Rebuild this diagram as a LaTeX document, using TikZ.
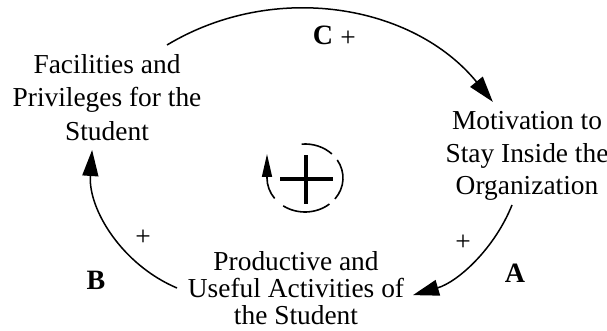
\documentclass[tikz,border=0pt]{standalone}
\usepackage{fontspec}
\setmainfont{Liberation Serif}
\usetikzlibrary{arrows.meta}
\begin{document}
\begin{tikzpicture}[x=1pt,y=1pt,
  lbl/.style={align=center, inner sep=0pt},
  sgn/.style={font=\fontsize{27.4}{33}\selectfont, inner sep=0pt},
  letter/.style={font=\fontsize{28}{33}\selectfont\bfseries, inner sep=0pt},
  link/.style={line width=1.5pt, -{Triangle[length=26pt,width=16pt]}},
  loopline/.style={line width=1.6pt},
  loopplus/.style={line width=3.6pt},
]
\useasboundingbox (0,0) rectangle (607,331);
% variables
\node[lbl, font=\fontsize{27.4}{33.5}\selectfont] (fac) at (107,233.8)
  {Facilities and\\Privileges for the\\Student};
\node[lbl, font=\fontsize{27.4}{32.5}\selectfont] (mot) at (527,175)
  {Motivation to\\Stay Inside the\\Organization};
\node[lbl, font=\fontsize{27.4}{27}\selectfont] (pro) at (296,42.5)
  {Productive and\\Useful Activities of\\the Student};
% link start points
\coordinate (cs) at (167,286);
\coordinate (as) at (512,126);
\coordinate (bs) at (177,43);
% links
\draw[link] (cs) arc[start angle=121, end angle=39.2, radius=252.6];
\draw[link] (as) arc[start angle=-21.8, end angle=-73.6, radius=153.3];
\draw[link] (bs) arc[start angle=247.1, end angle=176.1, radius=139.5];
% labels
\node[letter] (C) at (323,296) {C};
\node[sgn] (cp) at (348,292) {+};
\node[letter] (A) at (515,58) {A};
\node[sgn] (ap) at (463,88) {+};
\node[letter] (B) at (96,51) {B};
\node[sgn] (bp) at (143,93) {+};
% loop symbol
\coordinate (lc) at (305,153);
\draw[loopplus] (280,152) -- (333,152);
\draw[loopplus] (306,127) -- (306,176);
\draw[loopline] (lc) ++(95:38pt and 34pt) arc[start angle=95, end angle=45, x radius=38pt, y radius=34pt];
\draw[loopline] (lc) ++(32:38pt and 34pt) arc[start angle=32, end angle=-38, x radius=38pt, y radius=34pt];
\draw[loopline] (lc) ++(-50:38pt and 34pt) arc[start angle=-50, end angle=-125, x radius=38pt, y radius=34pt];
\draw[loopline, -{Triangle[length=23pt,width=10pt]}] (lc) ++(-143:38pt and 34pt)
  arc[start angle=-143, end angle=-180, x radius=38pt, y radius=34pt] -- ++(0,24pt);
\end{tikzpicture}
\end{document}
